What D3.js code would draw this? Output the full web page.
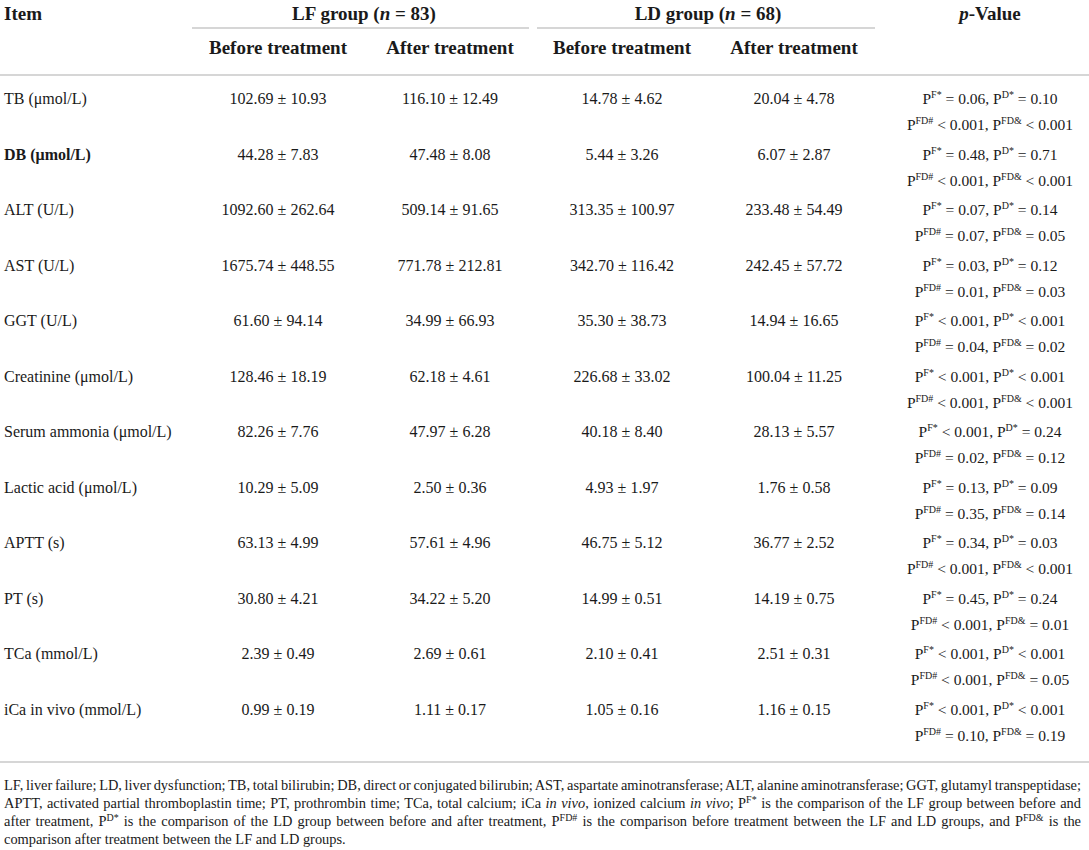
<!DOCTYPE html>
<html>
<head>
<meta charset="utf-8">
<script src="https://cdn.jsdelivr.net/npm/d3@7"></script>
<style>
  html, body { margin: 0; padding: 0; background: #fff; }
  svg { display: block; }
</style>
</head>
<body>
<div id="chart"></div>
<script>
const items = ["TB (μmol/L)", "DB (μmol/L)", "ALT (U/L)", "AST (U/L)", "GGT (U/L)",
  "Creatinine (μmol/L)", "Serum ammonia (μmol/L)", "Lactic acid (μmol/L)", "APTT (s)",
  "PT (s)", "TCa (mmol/L)", "iCa in vivo (mmol/L)"];
const boldItems = ["DB (μmol/L)"];

const groups = [{name: "LF", n: 83}, {name: "LD", n: 68}];
const phases = ["Before treatment", "After treatment"];

// mean, sd
const lfBefore = [[102.69, 10.93], [44.28, 7.83], [1092.60, 262.64], [1675.74, 448.55], [61.60, 94.14],
  [128.46, 18.19], [82.26, 7.76], [10.29, 5.09], [63.13, 4.99], [30.80, 4.21], [2.39, 0.49], [0.99, 0.19]];
const lfAfter = [[116.10, 12.49], [47.48, 8.08], [509.14, 91.65], [771.78, 212.81], [34.99, 66.93],
  [62.18, 4.61], [47.97, 6.28], [2.50, 0.36], [57.61, 4.96], [34.22, 5.20], [2.69, 0.61], [1.11, 0.17]];
const ldBefore = [[14.78, 4.62], [5.44, 3.26], [313.35, 100.97], [342.70, 116.42], [35.30, 38.73],
  [226.68, 33.02], [40.18, 8.40], [4.93, 1.97], [46.75, 5.12], [14.99, 0.51], [2.10, 0.41], [1.05, 0.16]];
const ldAfter = [[20.04, 4.78], [6.07, 2.87], [233.48, 54.49], [242.45, 57.72], [14.94, 16.65],
  [100.04, 11.25], [28.13, 5.57], [1.76, 0.58], [36.77, 2.52], [14.19, 0.75], [2.51, 0.31], [1.16, 0.15]];

// p-values (relation + value)
const pF = ["= 0.06", "= 0.48", "= 0.07", "= 0.03", "< 0.001", "< 0.001", "< 0.001", "= 0.13", "= 0.34", "= 0.45", "< 0.001", "< 0.001"];
const pD = ["= 0.10", "= 0.71", "= 0.14", "= 0.12", "< 0.001", "< 0.001", "= 0.24", "= 0.09", "= 0.03", "= 0.24", "< 0.001", "< 0.001"];
const pFDhash = ["< 0.001", "< 0.001", "= 0.07", "= 0.01", "= 0.04", "< 0.001", "= 0.02", "= 0.35", "< 0.001", "< 0.001", "< 0.001", "= 0.10"];
const pFDamp = ["< 0.001", "< 0.001", "= 0.05", "= 0.03", "= 0.02", "< 0.001", "= 0.12", "= 0.14", "< 0.001", "= 0.01", "= 0.05", "= 0.19"];

// footnote: arrays of runs, [text, style] where style: "" | "i" | "sup"
const footnote = [
  [["LF, liver failure; LD, liver dysfunction; TB, total bilirubin; DB, direct or conjugated bilirubin; AST, aspartate aminotransferase; ALT, alanine aminotransferase; GGT, glutamyl transpeptidase;", ""]],
  [["APTT, activated partial thromboplastin time; PT, prothrombin time; TCa, total calcium; iCa ", ""], ["in vivo", "i"],
   [", ionized calcium ", ""], ["in vivo", "i"], ["; P", ""], ["F*", "sup"], [" is the comparison of the LF group between before and", ""]],
  [["after treatment, P", ""], ["D*", "sup"], [" is the comparison of the LD group between before and after treatment, P", ""], ["FD#", "sup"],
   [" is the comparison before treatment between the LF and LD groups, and P", ""], ["FD&", "sup"], [" is the", ""]],
  [["comparison after treatment between the LF and LD groups.", ""]]
];

(function() {
  const width = 1089, height = 850;
  const font = "'Liberation Serif', 'Times New Roman', serif";
  const ink = "#1a1a1a";
  const rule = "#c8c8c8";

  const columns = [lfBefore, lfAfter, ldBefore, ldAfter];
  const fmt = d3.format(".2f");

  const svg = d3.select("#chart").append("svg")
    .attr("width", width)
    .attr("height", height)
    .style("font-family", font)
    .style("fill", ink);

  // column & row scales
  const x = d3.scaleBand().domain(d3.range(columns.length)).range([192, 880]);
  const pCenter = 990;
  const y = d3.scalePoint().domain(d3.range(items.length)).range([99, 710]);
  const left = 4;

  // ---- header ----
  const head = svg.append("g").attr("font-weight", "bold").attr("font-size", 19);

  head.append("text").attr("x", left).attr("y", 20).text("Item");

  groups.forEach((g, gi) => {
    const x0 = x(gi * 2), x1 = x(gi * 2 + 1) + x.bandwidth();
    const t = head.append("text")
      .attr("x", (x0 + x1) / 2)
      .attr("y", 20)
      .attr("text-anchor", "middle");
    t.append("tspan").text(g.name + " group (");
    t.append("tspan").attr("font-style", "italic").text("n");
    t.append("tspan").text(" = " + g.n + ")");

    svg.append("line")
      .attr("x1", x0 + (gi ? 1 : 0)).attr("x2", x1 - (gi ? 5 : 7))
      .attr("y1", 28).attr("y2", 28)
      .attr("stroke", rule).attr("stroke-width", 1.6);

    phases.forEach((p, pi) => {
      head.append("text")
        .attr("x", x(gi * 2 + pi) + x.bandwidth() / 2)
        .attr("y", 54)
        .attr("text-anchor", "middle")
        .text(p);
    });
  });

  const pv = head.append("text").attr("x", pCenter).attr("y", 20).attr("text-anchor", "middle");
  pv.append("tspan").attr("font-style", "italic").text("p");
  pv.append("tspan").text("-Value");

  svg.append("line")
    .attr("x1", 0).attr("x2", width)
    .attr("y1", 75).attr("y2", 75)
    .attr("stroke", rule).attr("stroke-width", 1.6);

  // ---- body ----
  const body = svg.append("g").attr("font-size", 16);

  const rows = body.selectAll("g.row")
    .data(items)
    .join("g")
    .attr("class", "row")
    .attr("transform", (d, i) => `translate(0,${y(i)})`);

  rows.append("text")
    .attr("x", left)
    .attr("y", 5)
    .attr("font-weight", d => boldItems.includes(d) ? "bold" : null)
    .text(d => d);

  columns.forEach((col, ci) => {
    rows.append("text")
      .attr("x", x(ci) + x.bandwidth() / 2)
      .attr("y", 5)
      .attr("text-anchor", "middle")
      .text((d, i) => `${fmt(col[i][0])} ± ${fmt(col[i][1])}`);
  });

  // p-value lines with superscripts
  function pLine(sel, dy, parts) {
    const t = sel.append("text")
      .attr("x", pCenter)
      .attr("y", dy)
      .attr("font-size", 15.5)
      .attr("text-anchor", "middle");
    t.each(function(d, i) {
      const node = d3.select(this);
      parts.forEach(([sup, arr], k) => {
        node.append("tspan").text((k ? ", " : "") + "P");
        node.append("tspan").attr("font-size", 10).attr("dy", -6).text(sup);
        node.append("tspan").attr("dy", 6).text(" " + arr[i]);
      });
    });
  }
  pLine(rows, 5, [["F*", pF], ["D*", pD]]);
  pLine(rows, 31, [["FD#", pFDhash], ["FD&", pFDamp]]);

  svg.append("line")
    .attr("x1", 0).attr("x2", width)
    .attr("y1", 762).attr("y2", 762)
    .attr("stroke", rule).attr("stroke-width", 1.6);

  // ---- footnote (justified) ----
  const noteRight = 1081;
  const note = svg.append("g").attr("font-size", 14.4);
  footnote.forEach((runs, li) => {
    const t = note.append("text")
      .attr("x", left)
      .attr("y", 790 + li * 18);
    let raised = false;
    runs.forEach(([txt, style]) => {
      const s = t.append("tspan").text(txt);
      if (style === "i") s.attr("font-style", "italic");
      if (style === "sup") { s.attr("font-size", 10).attr("dy", -5); raised = true; }
      else if (raised) { s.attr("dy", 5); raised = false; }
    });
    if (li < footnote.length - 1) {
      const w = t.node().getComputedTextLength();
      const spaces = runs.map(r => r[0]).join("").split(" ").length - 1;
      const extra = (noteRight - left - w) / spaces;
      t.attr("word-spacing", extra);
    }
  });
})();
</script>
</body>
</html>
